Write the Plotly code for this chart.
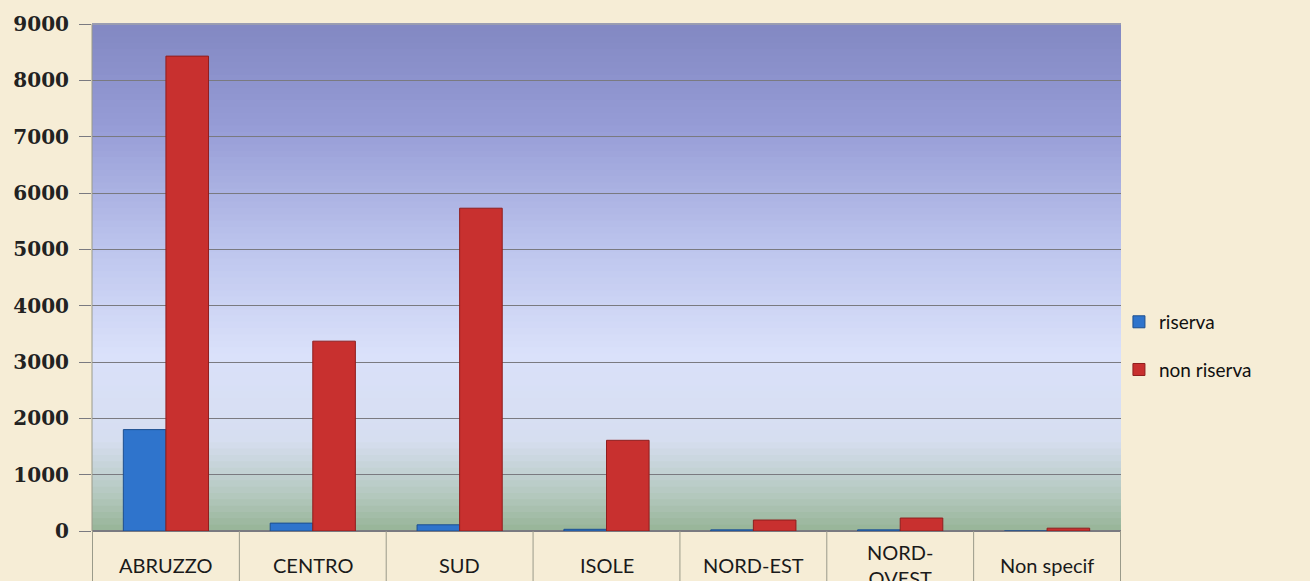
import plotly.graph_objects as go

categories = ["ABRUZZO", "CENTRO", "SUD", "ISOLE", "NORD-EST", "NORD-<br>OVEST", "Non specif"]
riserva = [1800, 140, 110, 30, 20, 20, 0]
non_riserva = [8430, 3370, 5730, 1610, 195, 230, 50]
y_ticks = [0, 1000, 2000, 3000, 4000, 5000, 6000, 7000, 8000, 9000]

# background gradient stops (paper y fraction -> rgb)
grad_stops = [
    (0.00, (150, 180, 150)),
    (0.07, (180, 200, 190)),
    (0.18, (214, 222, 240)),
    (0.35, (218, 225, 250)),
    (0.55, (190, 198, 238)),
    (0.80, (150, 156, 214)),
    (1.00, (130, 136, 194)),
]


def grad_color(t):
    for (t0, c0), (t1, c1) in zip(grad_stops[:-1], grad_stops[1:]):
        if t0 <= t <= t1:
            f = (t - t0) / (t1 - t0)
            return "rgb(%d,%d,%d)" % tuple(round(a + (b - a) * f) for a, b in zip(c0, c1))
    return "rgb(%d,%d,%d)" % grad_stops[-1][1]


fig = go.Figure()
fig.add_trace(go.Bar(
    x=categories, y=riserva, name="riserva",
    marker=dict(color="#2f74cc", line=dict(color="#1d4f8f", width=1)),
    legendgroup="a",
))
fig.add_trace(go.Bar(
    x=categories, y=non_riserva, name="non riserva",
    marker=dict(color="#c8302f", line=dict(color="#8f1e1e", width=1)),
    legendgroup="b",
))

shapes = []
n = 80
for i in range(n):
    y0 = i / n
    y1 = (i + 1) / n
    shapes.append(dict(type="rect", xref="paper", yref="paper", x0=0, x1=1, y0=y0, y1=y1 + 0.002,
                       fillcolor=grad_color((y0 + y1) / 2), line=dict(width=0), layer="below"))
# category separators below the axis
for k in range(len(categories) + 1):
    shapes.append(dict(type="line", xref="x", yref="paper", x0=k - 0.5, x1=k - 0.5, y0=0, y1=-0.2,
                       line=dict(color="#9a9a8a", width=1)))
shapes.append(dict(type="line", xref="paper", yref="paper", x0=0, x1=0, y0=0, y1=1,
                   line=dict(color="#9a9a8a", width=1)))
shapes.append(dict(type="line", xref="paper", yref="paper", x0=0, x1=1, y0=1, y1=1,
                   line=dict(color="#b0b0a0", width=1)))

annotations = []
for c in categories:
    annotations.append(dict(x=c, y=-34 / 507, xref="x", yref="paper", text=c, showarrow=False,
                            yanchor="middle", font=dict(family="Lato, Open Sans, sans-serif", size=20, color="#1a1a1a")))

fig.update_layout(
    width=1310, height=581,
    margin=dict(l=92, r=189, t=24, b=50),
    paper_bgcolor="#f6edd6",
    plot_bgcolor="rgba(0,0,0,0)",
    barmode="group",
    bargap=0.42,
    bargroupgap=0,
    shapes=shapes,
    annotations=annotations,
    showlegend=True,
    legend=dict(x=0.998, y=0.365, xanchor="left", yanchor="middle", bgcolor="rgba(0,0,0,0)",
                font=dict(family="Lato, Open Sans, sans-serif", size=19, color="#111"),
                tracegroupgap=20, itemwidth=30),
    xaxis=dict(showticklabels=False, showgrid=False, zeroline=False, showline=False, ticks=""),
    yaxis=dict(range=[0, 9000], tickvals=y_ticks, showgrid=True, gridcolor="#7a7a80", gridwidth=1,
               zeroline=True, zerolinecolor="#7a7a80", ticks="outside", ticklen=12, tickcolor="#7a7a80",
               ticklabelstandoff=6,
               tickfont=dict(family="DejaVu Serif", size=20, color="#222", weight="bold"), showline=False),
)

fig.write_html("out.html", config={"displayModeBar": False},
               post_script="document.body.style.margin='0';document.body.style.overflow='hidden';")
